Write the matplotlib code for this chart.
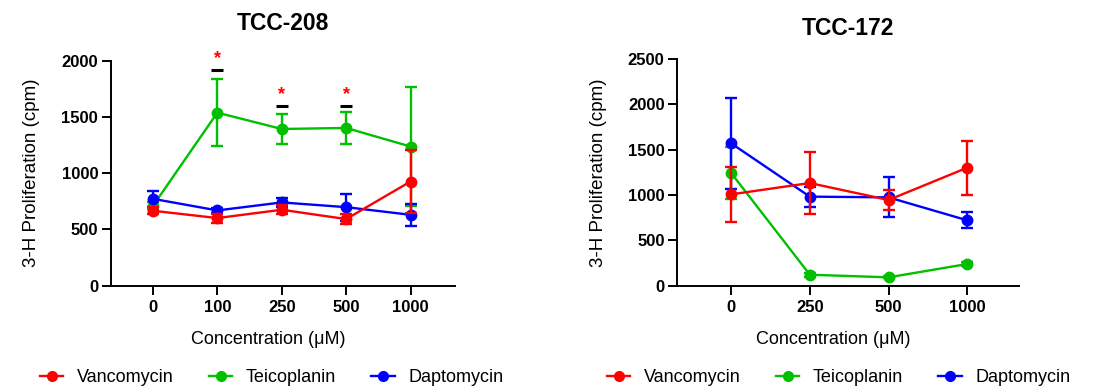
import matplotlib
matplotlib.use("Agg")
import matplotlib.pyplot as plt
from matplotlib.lines import Line2D

plt.rcParams['font.family'] = ['Liberation Sans', 'DejaVu Sans']

# ---- data ----
series_names = ["Vancomycin", "Teicoplanin", "Daptomycin"]
series_colors = ["#FF0000", "#00C000", "#0000FF"]

# TCC-208
conc_208 = ["0", "100", "250", "500", "1000"]
vanco_208 = [666, 601, 675, 592, 926]
vanco_208_err = [30, 40, 40, 45, 280]
teico_208 = [710, 1538, 1393, 1402, 1237]
teico_208_err = [30, 297, 135, 142, 525]
dapto_208 = [772, 669, 740, 698, 630]
dapto_208_err = [70, 25, 38, 120, 98]

sig_idx_208 = [1, 2, 3]
sig_level_208 = [1917, 1600, 1600]

# TCC-172
conc_172 = ["0", "250", "500", "1000"]
vanco_172 = [1007, 1132, 945, 1301]
vanco_172_err = [303, 347, 115, 300]
teico_172 = [1243, 121, 92, 239]
teico_172_err = [290, 20, 10, 20]
dapto_172 = [1570, 982, 974, 721]
dapto_172_err = [500, 110, 220, 90]

LW = 1.7
SPINE = 1.4


def style_axes(ax, ymax, ystep, xlim):
    for s in ("top", "right"):
        ax.spines[s].set_visible(False)
    for s in ("left", "bottom"):
        ax.spines[s].set_linewidth(SPINE)
    ax.set_ylim(0, ymax)
    ax.set_yticks(range(0, ymax + 1, ystep))
    ax.set_xlim(*xlim)
    ax.tick_params(axis="both", width=SPINE, length=6.5, labelsize=12)
    ax.tick_params(axis="y", pad=2.5)
    ax.tick_params(axis="x", pad=4)
    for lab in ax.get_xticklabels() + ax.get_yticklabels():
        lab.set_fontweight("bold")
    ax.set_ylabel("3-H Proliferation (cpm)", fontsize=13.5, labelpad=8)
    ax.set_xlabel("Concentration (\u03bcM)", fontsize=13, labelpad=10)
    ax.xaxis.set_label_coords(0.457, -0.2)


def draw_series(ax, labels, groups):
    x = list(range(len(labels)))
    # draw green, blue, then red on top
    for k in (1, 2, 0):
        vals, errs = groups[k]
        ax.errorbar(x, vals, yerr=errs, color=series_colors[k], lw=LW,
                    marker="o", markersize=7.5, capsize=4, capthick=LW,
                    elinewidth=LW, zorder=3 + (k == 0))
    ax.set_xticks(x)
    ax.set_xticklabels(labels)


fig = plt.figure(figsize=(11, 3.87), dpi=100)

ax1 = fig.add_axes([0.1006, 0.2618, 0.313, 0.5814])
draw_series(ax1, conc_208, [(vanco_208, vanco_208_err),
                            (teico_208, teico_208_err),
                            (dapto_208, dapto_208_err)])
style_axes(ax1, 2000, 500, (-0.657, 4.69))
ax1.yaxis.set_label_coords(-0.205, 0.5)
for i, lvl in zip(sig_idx_208, sig_level_208):
    ax1.plot([i], [lvl], marker="_", markersize=8, markeredgewidth=2.2,
             color="black", clip_on=False)
    ax1.annotate("*", (i, lvl), xytext=(0, 2), textcoords="offset points",
                 ha="center", va="bottom", color="#FF0000", fontsize=13,
                 fontweight="bold", annotation_clip=False)

ax2 = fig.add_axes([0.6155, 0.2618, 0.311, 0.5858])
draw_series(ax2, conc_172, [(vanco_172, vanco_172_err),
                            (teico_172, teico_172_err),
                            (dapto_172, dapto_172_err)])
style_axes(ax2, 2500, 500, (-0.687, 3.66))
ax2.yaxis.set_label_coords(-0.205, 0.5)

fig.text(0.2573, 1 - 23.5 / 387, "TCC-208", ha="center", va="center",
         fontsize=16.5, fontweight="bold")
fig.text(0.771, 1 - 28.5 / 387, "TCC-172", ha="center", va="center",
         fontsize=16.5, fontweight="bold")

handles = [Line2D([], [], color=c, lw=LW, marker="o", markersize=7)
           for c in series_colors]
for x0 in (40 / 1100, 607 / 1100):
    fig.legend(handles, series_names, ncol=3, loc="center left",
               bbox_to_anchor=(x0, 1 - 378 / 387), frameon=False,
               fontsize=13, handlelength=1.3, handletextpad=0.75,
               columnspacing=1.95, borderpad=0, borderaxespad=0)

fig.savefig("out.png", dpi=100)
